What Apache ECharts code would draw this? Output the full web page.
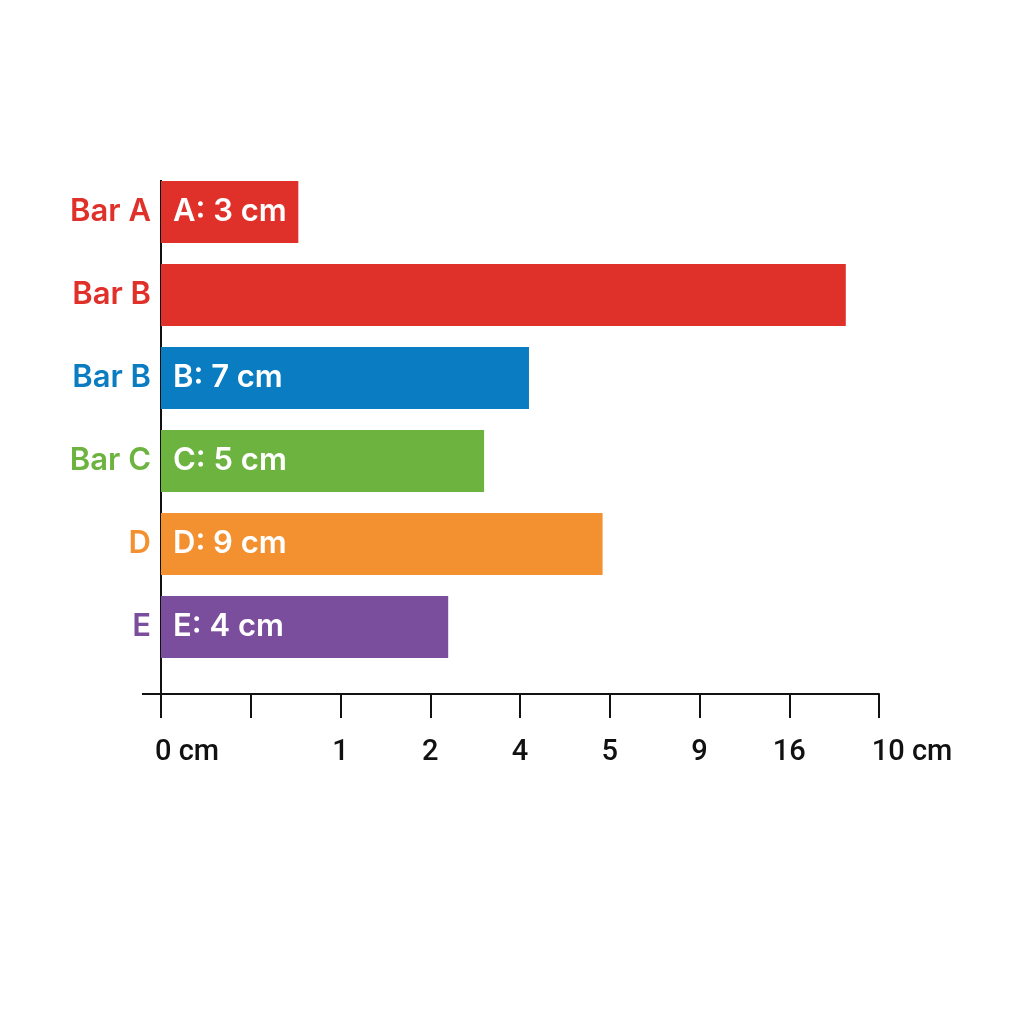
<!DOCTYPE html>
<html>
<head>
<meta charset="UTF-8">
<title></title>
<style>html,body{margin:0;background:#fff;}#charts{width:1024px;height:1024px;}</style>
</head>
<body>
<div id="charts"></div>
<script src="https://cdn.jsdelivr.net/npm/echarts@6/dist/echarts.min.js"></script>
<script>
var mycharts = echarts.init(document.getElementById('charts'));
// categories top to bottom
var categories = ['Bar A', 'Bar B', 'Bar B', 'Bar C', 'D', 'E'];
var barTexts = ['A: 3 cm', '', 'B: 7 cm', 'C: 5 cm', 'D: 9 cm', 'E: 4 cm'];
// bar lengths in axis tick units
var values = [1.53, 7.63, 4.1, 3.6, 4.92, 3.2];
var colors = ['#e0302a', '#e0302a', '#0a7dc2', '#6cb33f', '#f39131', '#7a4e9c'];
// tick labels as printed on the axis
var tickLabels = ['0 cm', '', '1', '2', '4', '5', '9', '16', '10 cm'];

var tickFont = {fontSize: 29, fontWeight: 500, fontFamily: 'Roboto', color: '#111'};

var option = {
    backgroundColor: '#fff',
    animation: false,
    grid: {left: 161, right: 145, top: 170.5, height: 498},
    xAxis: {
        type: 'value',
        min: 0, max: 8, interval: 1,
        offset: 25.5,
        axisLine: {show: true, lineStyle: {color: '#111', width: 2}},
        axisTick: {show: true, length: 24, lineStyle: {color: '#111', width: 2}},
        splitLine: {show: false},
        axisLabel: {
            margin: 44,
            fontSize: 29,
            fontWeight: 500,
            fontFamily: 'Roboto',
            color: '#111',
            rich: {
                first: Object.assign({padding: [0, 0, 0, 52]}, tickFont),
                last: Object.assign({padding: [0, 0, 0, 66]}, tickFont)
            },
            formatter: function (v) {
                var i = Math.round(v);
                if (i === 0) return '{first|' + tickLabels[i] + '}';
                if (i === tickLabels.length - 1) return '{last|' + tickLabels[i] + '}';
                return tickLabels[i];
            }
        }
    },
    yAxis: {
        type: 'category',
        inverse: true,
        data: categories,
        axisLine: {show: false},
        axisTick: {show: false},
        axisLabel: {
            margin: 10,
            fontSize: 31,
            fontWeight: 600,
            fontFamily: 'Inter',
            color: function (v, i) { return colors[i]; }
        }
    },
    // axis frame lines
    graphic: [
        {type: 'line', shape: {x1: 161, y1: 180, x2: 161, y2: 694}, style: {stroke: '#111', lineWidth: 2}},
        {type: 'line', shape: {x1: 142, y1: 694, x2: 161, y2: 694}, style: {stroke: '#111', lineWidth: 2}}
    ],
    series: [{
        type: 'bar',
        barWidth: 62,
        data: values.map(function (v, i) {
            return {value: v, itemStyle: {color: colors[i]}};
        }),
        label: {
            show: true,
            position: 'insideLeft',
            distance: 12,
            color: '#fff',
            fontSize: 31,
            fontWeight: 600,
            fontFamily: 'Inter',
            formatter: function (p) { return barTexts[p.dataIndex]; }
        }
    }]
};
mycharts.setOption(option);
</script>
</body>
</html>
